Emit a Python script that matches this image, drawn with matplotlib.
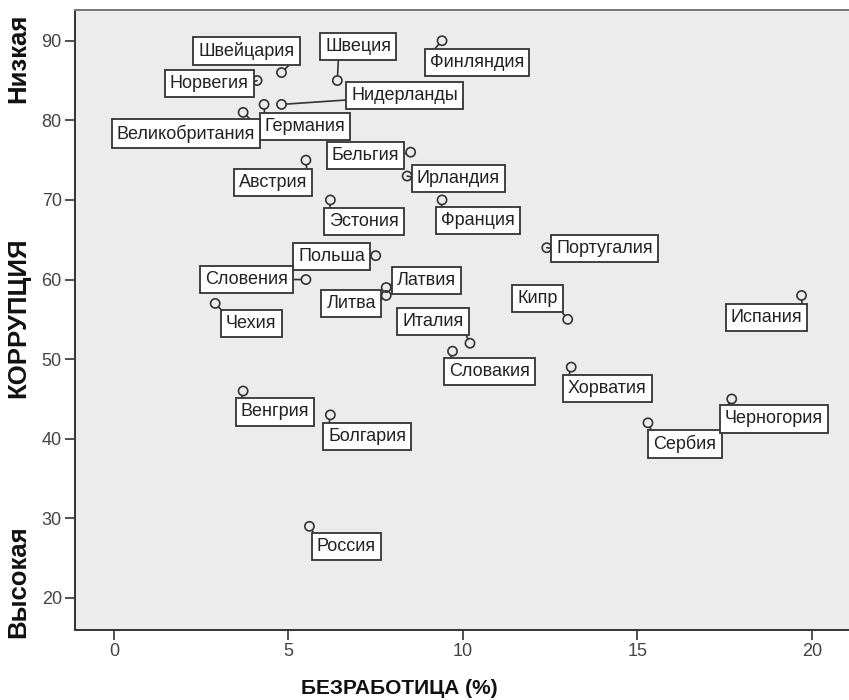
import matplotlib.pyplot as plt

plt.rcParams['font.family'] = ['Liberation Sans', 'DejaVu Sans']

# data: unemployment (%) vs corruption index
countries = ['Финляндия', 'Швеция', 'Швейцария', 'Норвегия', 'Нидерланды', 'Германия',
             'Великобритания', 'Бельгия', 'Ирландия', 'Австрия', 'Эстония', 'Франция',
             'Польша', 'Словения', 'Чехия', 'Латвия', 'Литва', 'Италия', 'Словакия',
             'Венгрия', 'Болгария', 'Португалия', 'Кипр', 'Испания', 'Хорватия',
             'Сербия', 'Черногория', 'Россия']
unemployment = [9.4, 6.4, 4.8, 4.1, 4.8, 4.3, 3.7, 8.5, 8.4, 5.5, 6.2, 9.4,
                7.5, 5.5, 2.9, 7.8, 7.8, 10.2, 9.7, 3.7, 6.2, 12.4, 13.0, 19.7,
                13.1, 15.3, 17.7, 5.6]
corruption = [90, 85, 86, 85, 82, 82, 81, 76, 73, 75, 70, 70,
              63, 60, 57, 59, 58, 52, 51, 46, 43, 64, 55, 58,
              49, 42, 45, 29]
x_ticks = [0, 5, 10, 15, 20]
y_ticks = [20, 30, 40, 50, 60, 70, 80, 90]

# label placement (pixel offset of box centre from point; x right, y down)
label_offsets = {
    'Финляндия': (35, 22), 'Швеция': (21, -34), 'Швейцария': (-35, -22),
    'Норвегия': (-48, 3), 'Нидерланды': (123, -9), 'Германия': (41, 22),
    'Великобритания': (-57, 21), 'Бельгия': (-45, 3), 'Ирландия': (51, 2),
    'Австрия': (-33, 22), 'Эстония': (34, 22), 'Франция': (36, 21),
    'Польша': (-44, 1), 'Словения': (-59, 0), 'Чехия': (36, 20),
    'Латвия': (40, -7), 'Литва': (-35, 8), 'Италия': (-37, -22),
    'Словакия': (37, 20), 'Венгрия': (32, 21), 'Болгария': (37, 22),
    'Португалия': (58, 1), 'Кипр': (-30, -21), 'Испания': (-35, 22),
    'Хорватия': (36, 21), 'Сербия': (37, 21), 'Черногория': (42, 20),
    'Россия': (37, 20),
}
# where the leader line meets the box, if not the nearest corner
relpos_fix = {'Нидерланды': (0, 0.25), 'Швеция': (0.2, 0)}

fig = plt.figure(figsize=(8.49, 7.0), dpi=100)
ax = fig.add_axes([75 / 849, 70.5 / 700, 774 / 849, 619.5 / 700])
ax.set_facecolor('#ececec')
ax.set_xlim(-1.117, 21.06)
ax.set_ylim(16.04, 93.86)

for side in ['left', 'bottom', 'top']:
    ax.spines[side].set_color('#333333')
    ax.spines[side].set_linewidth(1.4)
ax.spines['top'].set_color('#777777')
ax.spines['right'].set_visible(False)

ax.set_xticks(x_ticks)
ax.set_yticks(y_ticks)
ax.tick_params(axis='both', length=7.5, width=1.2, color='#333333',
               labelsize=13, labelcolor='#444444', pad=2)

ax.scatter(unemployment, corruption, s=44, facecolor='none', edgecolor='#333333',
           linewidth=1.2, zorder=3)

box = dict(boxstyle='square,pad=0.28', facecolor='white', edgecolor='#333333', linewidth=1.3)
for name, xv, yv in zip(countries, unemployment, corruption):
    dx, dy = label_offsets[name]
    rx = 0 if dx > 15 else (1 if dx < -15 else 0.5)
    ry = 1 if dy > 10 else (0 if dy < -10 else 0.5)
    rx, ry = relpos_fix.get(name, (rx, ry))
    ax.annotate(name, xy=(xv, yv), xytext=(dx, -dy), textcoords='offset pixels',
                ha='center', va='center', fontsize=13, color='#222222', bbox=box,
                arrowprops=dict(arrowstyle='-', color='#333333', lw=1.2,
                                shrinkA=0, shrinkB=3.5, relpos=(rx, ry)),
                zorder=4)

fig.text(399 / 849, 1 - 689 / 700, 'БЕЗРАБОТИЦА (%)', ha='center', va='center',
         fontsize=15, fontweight='bold', color='#111111')
fig.text(18 / 849, 1 - 318 / 700, 'КОРРУПЦИЯ', ha='center', va='center', rotation=90,
         fontsize=18.5, fontweight='bold', color='#111111')
fig.text(18 / 849, 1 - 58 / 700, 'Низкая', ha='center', va='center', rotation=90,
         fontsize=18.5, fontweight='bold', color='#111111')
fig.text(18 / 849, 1 - 582 / 700, 'Высокая', ha='center', va='center', rotation=90,
         fontsize=18.5, fontweight='bold', color='#111111')

fig.savefig('out.png', dpi=100)
